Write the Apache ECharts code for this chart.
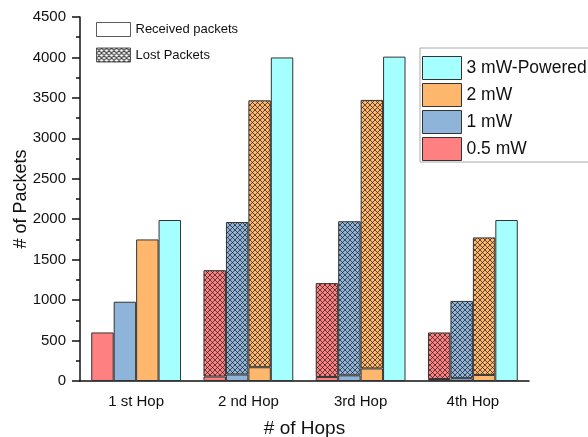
<!DOCTYPE html>
<html>
<head>
<meta charset="utf-8">
<script src="https://cdn.jsdelivr.net/npm/echarts@6/dist/echarts.min.js"></script>
<style>html,body{margin:0;padding:0;background:#fff}#c{width:588px;height:437px}</style>
</head>
<body>
<div id="c"></div>
<script>
// ---- data ----
var categories = ['1 st Hop', '2 nd Hop', '3rd Hop', '4th Hop'];
var seriesNames = ['0.5 mW', '1 mW', '2 mW', '3 mW-Powered'];
var received05 = [600, 55, 50, 25];
var lost05 = [0, 1315, 1160, 575];
var received1 = [980, 80, 70, 35];
var lost1 = [0, 1885, 1905, 955];
var received2 = [1750, 170, 155, 75];
var lost2 = [0, 3300, 3320, 1700];
var received3 = [1990, 4000, 4010, 1990];
var lost3 = [0, 0, 0, 0];
var yTicks = { min: 0, max: 4500, interval: 500 };

// ---- styles ----
var FONT = '"Liberation Sans", Arial, sans-serif';
var colors = ['#FF8080', '#8FB4DA', '#FFB76E', '#A6FFFF'];
var received = [received05, received1, received2, received3];
var lost = [lost05, lost1, lost2, lost3];

function hatch(bg, alpha, lw) {
  var s = 5, k = 4;
  var c = document.createElement('canvas');
  c.width = s * k; c.height = s * k;
  var g = c.getContext('2d');
  g.fillStyle = bg; g.fillRect(0, 0, c.width, c.height);
  g.strokeStyle = 'rgba(20,20,20,' + alpha + ')';
  g.lineWidth = lw;
  g.beginPath();
  for (var i = -k; i <= 2 * k; i++) {
    g.moveTo(i * s, 0); g.lineTo(i * s + c.height, c.height);
    g.moveTo(i * s, 0); g.lineTo(i * s - c.height, c.height);
  }
  g.stroke();
  return c;
}

var series = [];
for (var i = 0; i < 4; i++) {
  series.push({
    name: seriesNames[i], type: 'bar', stack: 's' + i,
    barGap: '0%', barCategoryGap: '20%',
    itemStyle: { color: colors[i], borderColor: '#333', borderWidth: 1 },
    data: received[i]
  });
  series.push({
    name: seriesNames[i] + ' lost', type: 'bar', stack: 's' + i,
    barGap: '0%', barCategoryGap: '20%',
    itemStyle: { color: { image: hatch(colors[i], 0.75, 0.9), repeat: 'repeat' }, borderColor: '#333', borderWidth: 1 },
    data: lost[i].map(function (v) { return v === 0 ? '-' : v; })
  });
}
series.push({ name: 'Received packets', type: 'scatter', data: [] });
series.push({ name: 'Lost Packets', type: 'scatter', data: [] });

var chart = echarts.init(document.getElementById('c'), null, { renderer: 'canvas' });
chart.setOption({
  animation: false,
  textStyle: { fontFamily: FONT, color: '#111' },
  grid: { left: 80, right: 59, top: 17, bottom: 56, containLabel: false, outerBoundsMode: 'none' },
  legend: [
    {
      left: 96, top: 22, orient: 'vertical', padding: 0,
      itemWidth: 34, itemHeight: 14, itemGap: 10.5,
      textStyle: { fontFamily: FONT, fontSize: 13, color: '#111' },
      data: [
        { name: 'Received packets', icon: 'rect', itemStyle: { color: '#fff', borderColor: '#333', borderWidth: 1 } },
        { name: 'Lost Packets', icon: 'rect', itemStyle: { color: { image: hatch('#fff', 1, 1.1), repeat: 'repeat' }, borderColor: '#333', borderWidth: 1 } }
      ]
    },
    {
      left: 420, top: 48, orient: 'vertical', padding: [8, 2, 1, 2],
      borderColor: '#aaa', borderWidth: 1,
      itemWidth: 39, itemHeight: 23, itemGap: 3,
      textStyle: { fontFamily: FONT, fontSize: 17.5, color: '#111' },
      data: [
        { name: '3 mW-Powered', icon: 'rect', itemStyle: { borderColor: '#333', borderWidth: 1 } },
        { name: '2 mW', icon: 'rect', itemStyle: { borderColor: '#333', borderWidth: 1 } },
        { name: '1 mW', icon: 'rect', itemStyle: { borderColor: '#333', borderWidth: 1 } },
        { name: '0.5 mW', icon: 'rect', itemStyle: { borderColor: '#333', borderWidth: 1 } }
      ]
    }
  ],
  xAxis: [
    {
      type: 'category', data: categories, position: 'bottom',
      name: '# of Hops', nameLocation: 'middle', nameGap: 38, nameMoveOverlap: false,
      nameTextStyle: { fontFamily: FONT, fontSize: 19, color: '#111' },
      axisLine: { lineStyle: { color: '#111', width: 1.5 } },
      axisTick: { alignWithLabel: true, length: 6, lineStyle: { color: '#111', width: 1.5 } },
      axisLabel: { fontFamily: FONT, fontSize: 15, color: '#111', margin: 13 }
    },
    {
      type: 'category', data: categories, position: 'bottom',
      axisLine: { show: false },
      axisTick: { length: 3, lineStyle: { color: '#111', width: 1.5 } },
      axisLabel: { show: false }
    }
  ],
  yAxis: {
    type: 'value', min: yTicks.min, max: yTicks.max, interval: yTicks.interval,
    name: '# of Packets', nameLocation: 'middle', nameGap: 50, nameMoveOverlap: false,
    nameTextStyle: { fontFamily: FONT, fontSize: 18, color: '#111' },
    axisLine: { show: true, lineStyle: { color: '#111', width: 1.5 } },
    axisTick: { show: true, length: 8, lineStyle: { color: '#111', width: 1.5 } },
    minorTick: { show: true, splitNumber: 2, length: 4, lineStyle: { color: '#111', width: 1.5 } },
    splitLine: { show: false },
    axisLabel: { fontFamily: FONT, fontSize: 15, color: '#111', margin: 14, formatter: function (v) { return String(v); } }
  },
  series: series
});
</script>
</body>
</html>
